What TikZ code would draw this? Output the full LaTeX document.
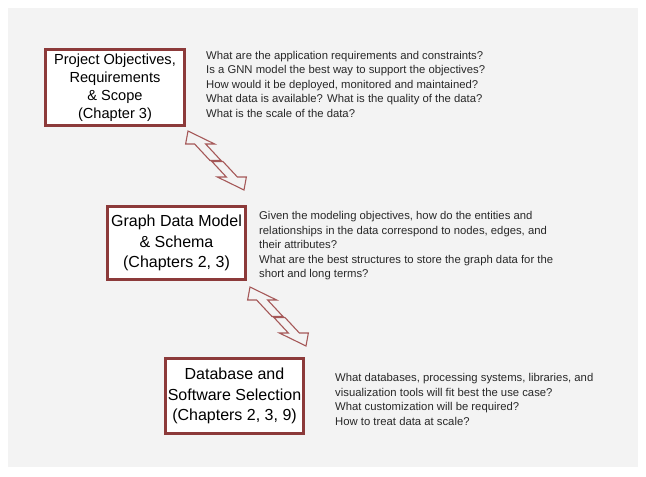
\documentclass[tikz,border=0pt]{standalone}
\usepackage{fontspec}
\setmainfont{Liberation Sans}
\definecolor{boxred}{RGB}{140,58,58}
\definecolor{arrred}{RGB}{165,88,88}
\definecolor{paper}{RGB}{243,243,243}
\definecolor{txt}{RGB}{40,40,40}
\begin{document}
\begin{tikzpicture}[x=1pt,y=-1pt,
  stagebox/.style={draw=boxred, line width=3pt, fill=white, align=center, inner sep=0pt, text=black},
  bigtxt/.style={font=\fontsize{16}{20.5}\selectfont},
  midtxt/.style={font=\fontsize{14.6}{18}\selectfont},
  question/.style={anchor=north west, align=left, inner sep=0pt, text=txt, font=\fontsize{11.3}{14.5}\selectfont},
  arrowline/.style={draw=arrred, line width=1.1pt, line join=miter},
  brokenarrow/.pic={
    \draw[arrowline] (0,0) -- (26.62,13) -- (17.62,13) -- (32.99,29.5) -- (21.99,29.5) -- (6.62,13) -- (-2.38,13) -- cycle;
    \draw[arrowline] (55.99,59) -- (58.37,46) -- (49.37,46) -- (34.93,30.5) -- (23.93,30.5) -- (38.37,46) -- (29.37,46) -- cycle;
  }
]
\useasboundingbox (0,0) rectangle (646,477);
\fill[white] (0,0) rectangle (646,477);
\fill[paper] (8,8) rectangle (638,467);

\node[stagebox, midtxt, minimum width=139pt, minimum height=76pt] (b1) at (115,87.5)
  {Project Objectives,\\Requirements\\\& Scope\\(Chapter 3)};
\node[stagebox, bigtxt, minimum width=138pt, minimum height=73pt] (b2) at (176.5,243)
  {Graph Data Model\\\& Schema\\(Chapters 2, 3)};
\node[stagebox, bigtxt, minimum width=138pt, minimum height=75pt] (b3) at (234.5,396)
  {Database and\\Software Selection\\(Chapters 2, 3, 9)};

\node[question] (q1) at (206,50.8)
  {What are the application requirements and constraints?\\
   Is a GNN model the best way to support the objectives?\\
   How would it be deployed, monitored and maintained?\\
   What data is available? What is the quality of the data?\\
   What is the scale of the data?};
\node[question] (q2) at (259,211.3)
  {Given the modeling objectives, how do the entities and\\
   relationships in the data correspond to nodes, edges, and\\
   their attributes?\\
   What are the best structures to store the graph data for the\\
   short and long terms?};
\node[question] (q3) at (335,373.3)
  {What databases, processing systems, libraries, and\\
   visualization tools will fit best the use case?\\
   What customization will be required?\\
   How to treat data at scale?};

\coordinate (a1) at (188,131);
\coordinate (a2) at (250,287);
\pic at (a1) {brokenarrow};
\pic at (a2) {brokenarrow};
\end{tikzpicture}
\end{document}
